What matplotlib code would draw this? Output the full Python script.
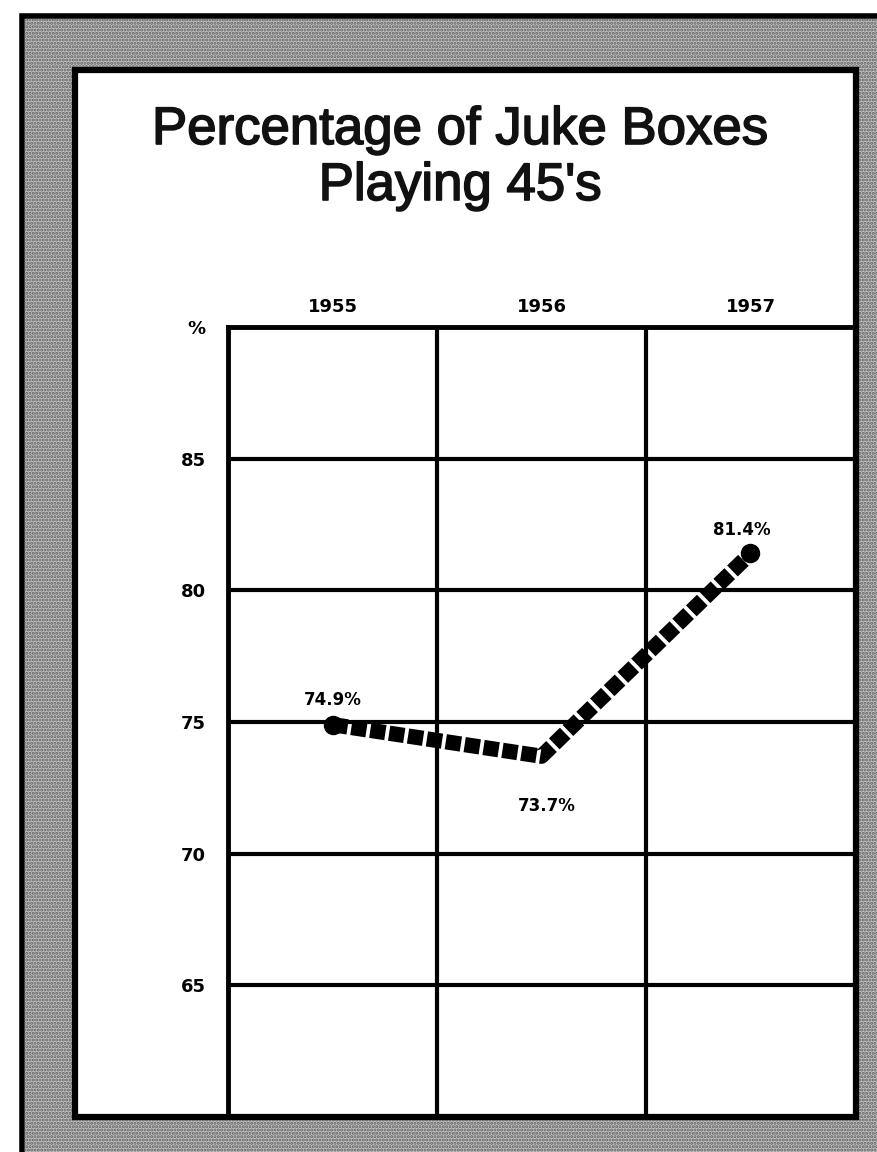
import matplotlib.pyplot as plt
import matplotlib.patheffects as pe
from matplotlib.patches import Rectangle

# values
years = ['1955', '1956', '1957']
pct = [74.9, 73.7, 81.4]
point_labels = ['74.9%', '73.7%', '81.4%']
y_ticks = [65, 70, 75, 80, 85, 90]
y_tick_labels = ['65', '70', '75', '80', '85', '%']

W, H = 878, 1152
fig = plt.figure(figsize=(W / 100, H / 100), dpi=100)
fig.patch.set_facecolor('white')


def fbox(x0, y0, x1, y1):
    # pixel box (origin top left) -> figure fraction rect
    return x0 / W, 1 - y1 / H, (x1 - x0) / W, (y1 - y0) / H


def rect(box, **kw):
    x, y, w, h = box
    fig.add_artist(Rectangle((x, y), w, h, transform=fig.transFigure, **kw))


plt.rcParams['hatch.linewidth'] = 1.5

# halftone border
rect(fbox(22, 16, 890, 1160), facecolor='#c2c2c2', edgecolor='black', lw=4)
rect(fbox(24, 18, 890, 1160), facecolor='none', edgecolor='#5e5e5e', hatch='.....', lw=0)
# white panel
rect(fbox(75, 70, 856, 1117), facecolor='white', edgecolor='black', lw=4.5, zorder=2)

thick = [pe.withStroke(linewidth=1.2, foreground='#111111')]
fig.text(460 / W, 1 - 130 / H, 'Percentage of Juke Boxes', ha='center', va='center',
         fontsize=38, family='Liberation Sans', color='#111111', path_effects=thick)
fig.text(460 / W, 1 - 186 / H, "Playing 45's", ha='center', va='center',
         fontsize=38, family='Liberation Sans', color='#111111', path_effects=thick)

ax = fig.add_axes(fbox(228, 327, 855, 1117), zorder=3)
ax.set_facecolor('none')
x = [0.5, 1.5, 2.5]
ax.set_xlim(0, 3)
ax.set_ylim(60, 90)

ax.plot(x, pct, color='black', lw=11, dashes=(1.0, 0.25), dash_capstyle='butt', zorder=4)
ax.plot([x[0], x[-1]], [pct[0], pct[-1]], 'o', ms=13, color='black', zorder=4)

offsets = [(0, 18), (4, -36), (-6, 17)]
for xi, yi, lab, off in zip(x, pct, point_labels, offsets):
    ax.annotate(lab, (xi, yi), xytext=off, textcoords='offset points',
                ha='center', va='center', fontsize=12, fontweight='bold')

ax.set_xticks(x)
ax.set_xticklabels(years, fontsize=13, fontweight='bold')
ax.set_xticks([1, 2], minor=True)
ax.xaxis.tick_top()
ax.set_yticks(y_ticks)
ax.set_yticklabels(y_tick_labels, fontsize=13, fontweight='bold')
ax.tick_params(which='both', length=0)
ax.tick_params(axis='x', pad=8)
ax.tick_params(axis='y', pad=16)

ax.grid(which='minor', axis='x', color='black', lw=3)
ax.grid(which='major', axis='y', color='black', lw=3)
for s in ax.spines.values():
    s.set_linewidth(3.5)
    s.set_color('black')

fig.savefig('out.png', dpi=100)
